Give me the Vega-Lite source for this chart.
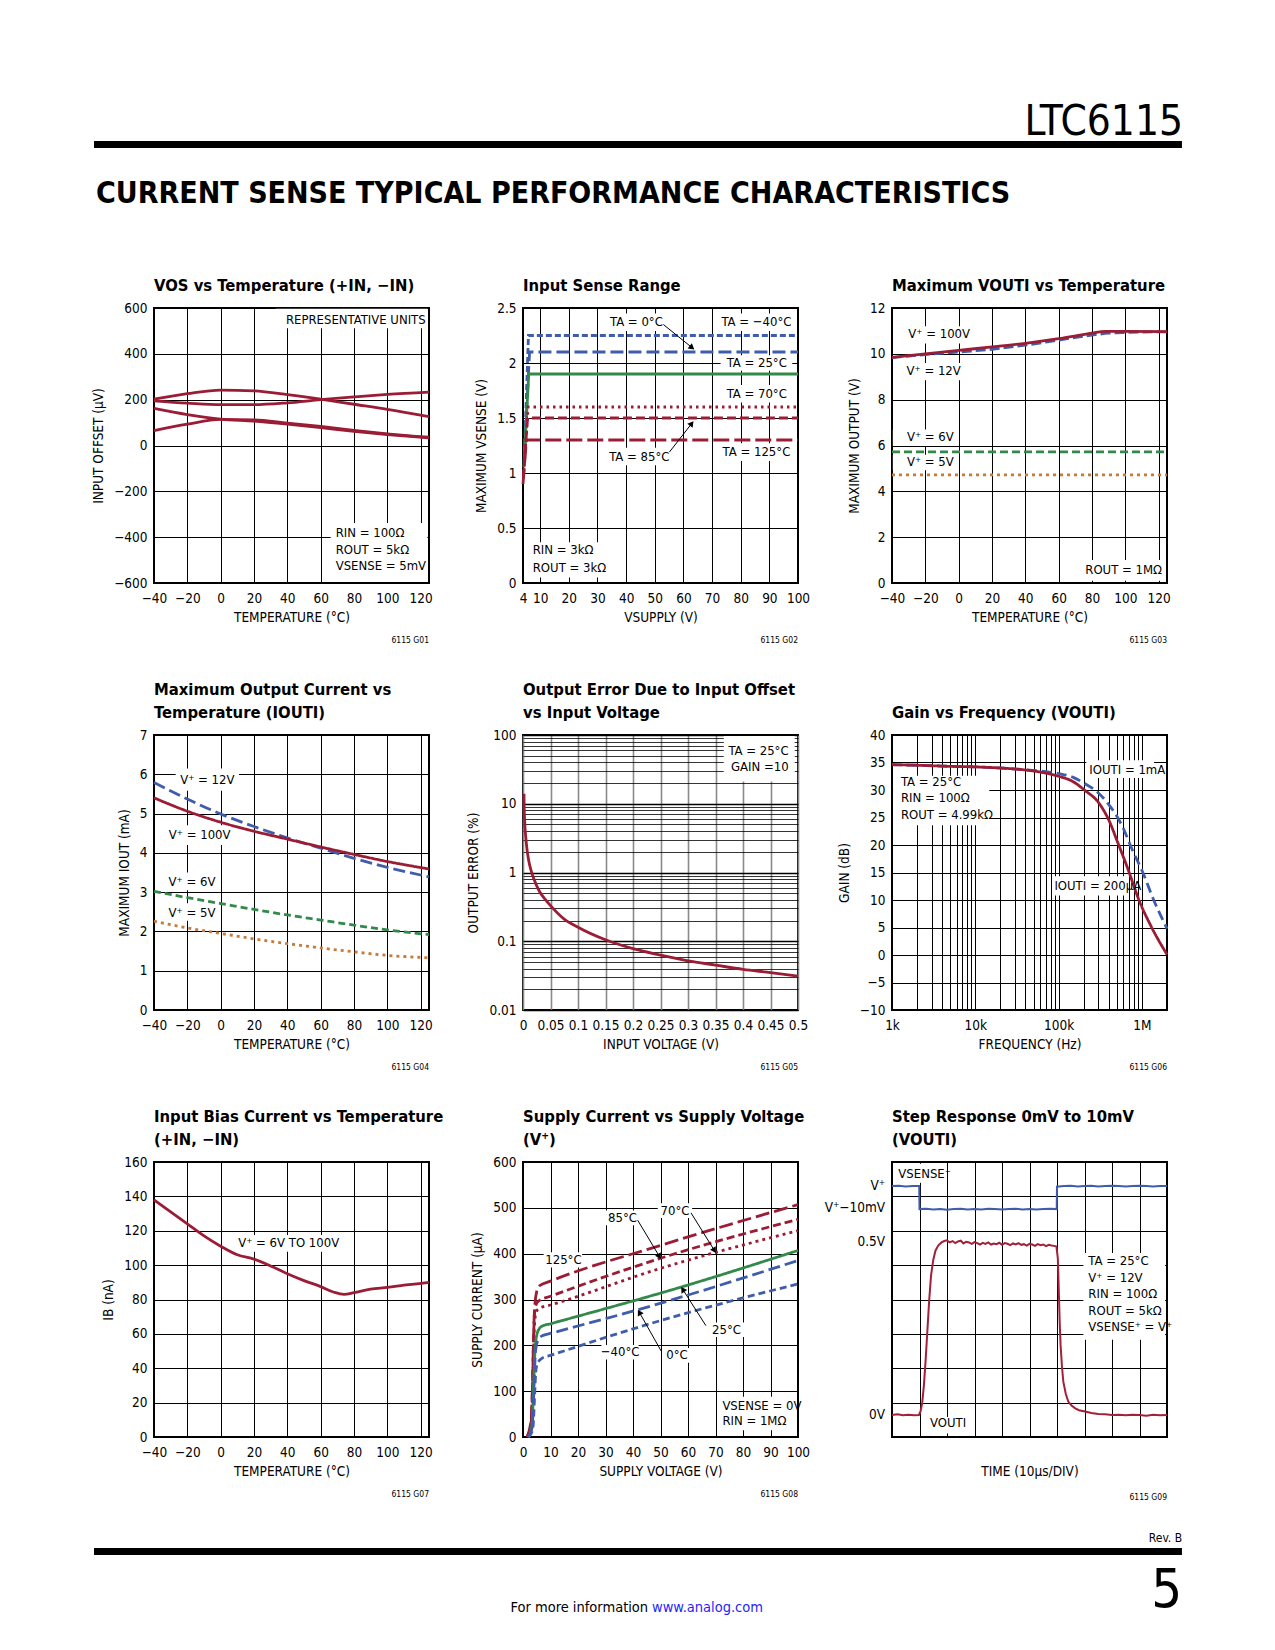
{
"$schema": "https://vega.github.io/schema/vega-lite/v6.json",
"background": "white",
"padding": {"left": 90, "top": 96, "right": 5, "bottom": 5},
"columns": 3,
"bounds": "flush",
"align": "each",
"spacing": {"row": 152, "column": 94},
"resolve": {"scale": {"color": "independent", "strokeDash": "independent"}},
"config": {
  "font": "DejaVu Sans Condensed, Liberation Sans, sans-serif",
  "view": {"stroke": "black", "strokeWidth": 2},
  "axis": {"grid": true, "gridColor": "black", "gridWidth": 1, "gridOpacity": 1, "domain": false, "ticks": false, "tickSize": 0,
           "labelFontSize": 13.5, "labelColor": "black", "labelFlush": false, "labelOverlap": false, "labelBound": false,
           "titleFontSize": 13.5, "titleFontWeight": "normal", "titleColor": "black"},
  "axisX": {"labelPadding": 8, "titlePadding": 6},
  "axisY": {"labelPadding": 7, "titlePadding": 8},
  "title": {"anchor": "start", "frame": "group", "fontSize": 16.5, "fontWeight": "bold", "color": "black", "offset": 7, "lineHeight": 23},
  "text": {"fontSize": 13, "color": "black", "baseline": "middle", "lineBreak": "\n", "lineHeight": 16.5},
  "line": {"strokeWidth": 2.8},
  "point": {"filled": true}
},
"concat": [
{
  "width": 275, "height": 60, "view": {"stroke": null},
  "layer": [
    {"data": {"values": [{"element": "top rule"}]}, "mark": {"type": "rect", "color": "black"},
     "encoding": {"x": {"datum": -0.2182, "type": "quantitative", "scale": {"domain": [0, 1], "nice": false, "zero": false}, "axis": null},
                  "x2": {"datum": 3.738},
                  "y": {"datum": 0.25, "type": "quantitative", "scale": {"domain": [0, 1], "nice": false, "zero": false}, "axis": null},
                  "y2": {"datum": 0.1333}}},
    {"data": {"values": [{"label": "CURRENT SENSE TYPICAL PERFORMANCE CHARACTERISTICS"}]},
     "mark": {"type": "text", "align": "left", "baseline": "alphabetic", "fontSize": 30, "fontWeight": "bold"},
     "encoding": {"x": {"datum": -0.2109, "type": "quantitative", "scale": {"domain": [0, 1], "nice": false, "zero": false}, "axis": null},
                  "y": {"datum": -0.7833, "type": "quantitative", "scale": {"domain": [0, 1], "nice": false, "zero": false}, "axis": null},
                  "text": {"field": "label", "type": "nominal"}}}
  ]
},
{
  "width": 275, "height": 60, "view": {"stroke": null},
  "data": {"values": [{"element": "spacer"}]}, "mark": {"type": "point", "opacity": 0}
},
{
  "width": 275, "height": 60, "view": {"stroke": null},
  "data": {"values": [{"label": "LTC6115"}]},
  "mark": {"type": "text", "align": "right", "baseline": "alphabetic", "fontSize": 42},
  "encoding": {"x": {"datum": 1.058, "type": "quantitative", "scale": {"domain": [0, 1], "nice": false, "zero": false}, "axis": null},
               "y": {"datum": 0.358, "type": "quantitative", "scale": {"domain": [0, 1], "nice": false, "zero": false}, "axis": null},
               "text": {"field": "label", "type": "nominal"}}
},
{
  "width": 275, "height": 275,
  "title": {"text": "VOS vs Temperature (+IN, −IN)"},
  "encoding": {
    "x": {"field": "x", "type": "quantitative", "scale": {"domain": [-40, 125], "nice": false, "zero": false}, "axis": {"values": [-40,-20,0,20,40,60,80,100,120], "format": "d", "title": "TEMPERATURE (°C)"}},
    "y": {"field": "y", "type": "quantitative", "scale": {"domain": [-600, 600], "nice": false, "zero": false}, "axis": {"values": [-600,-400,-200,0,200,400,600], "format": "d", "title": "INPUT OFFSET (µV)"}}
  },
  "layer": [
    {"data": {"values": [{"x": 33, "x2": 124, "y": 597, "y2": 512}, {"x": 66, "x2": 124, "y": -338, "y2": -596}]},
     "mark": {"type": "rect", "fill": "white"}, "encoding": {"x2": {"field": "x2"}, "y2": {"field": "y2"}}},
    {"data": {"values": [
      {"s":"A","x":-40,"y":202},{"s":"A","x":-20,"y":226},{"s":"A","x":0,"y":242},{"s":"A","x":20,"y":238},{"s":"A","x":40,"y":222},{"s":"A","x":60,"y":202},{"s":"A","x":80,"y":180},{"s":"A","x":100,"y":158},{"s":"A","x":125,"y":126},
      {"s":"B","x":-40,"y":195},{"s":"B","x":-20,"y":185},{"s":"B","x":0,"y":178},{"s":"B","x":20,"y":178},{"s":"B","x":40,"y":186},{"s":"B","x":60,"y":200},{"s":"B","x":80,"y":212},{"s":"B","x":100,"y":223},{"s":"B","x":125,"y":233},
      {"s":"C","x":-40,"y":162},{"s":"C","x":-20,"y":135},{"s":"C","x":0,"y":115},{"s":"C","x":20,"y":106},{"s":"C","x":40,"y":93},{"s":"C","x":60,"y":78},{"s":"C","x":80,"y":62},{"s":"C","x":100,"y":48},{"s":"C","x":125,"y":33},
      {"s":"D","x":-40,"y":65},{"s":"D","x":-20,"y":93},{"s":"D","x":0,"y":114},{"s":"D","x":20,"y":112},{"s":"D","x":40,"y":98},{"s":"D","x":60,"y":83},{"s":"D","x":80,"y":66},{"s":"D","x":100,"y":51},{"s":"D","x":125,"y":36}
    ]}, "mark": {"type": "line", "color": "#9B1C35", "interpolate": "monotone"}, "encoding": {"detail": {"field": "s", "type": "nominal"}}},
    {"data": {"values": [{"x": 123, "y": 546, "label": "REPRESENTATIVE UNITS"}]}, "mark": {"type": "text", "align": "right"}, "encoding": {"text": {"field": "label", "type": "nominal"}}},
    {"data": {"values": [{"x": 69, "y": -382, "label": "RIN = 100Ω\nROUT = 5kΩ\nVSENSE = 5mV"}]}, "mark": {"type": "text", "align": "left"}, "encoding": {"text": {"field": "label", "type": "nominal"}}},
    {"data": {"values": [{"x": 125, "y": -600, "label": "6115 G01"}]}, "mark": {"type": "text", "align": "right", "dy": 57, "fontSize": 8.5}, "encoding": {"text": {"field": "label", "type": "nominal"}}}
  ]
},
{
  "width": 275, "height": 275,
  "title": {"text": "Input Sense Range"},
  "encoding": {
    "x": {"field": "x", "type": "quantitative", "scale": {"domain": [4, 100], "nice": false, "zero": false}, "axis": {"values": [4,10,20,30,40,50,60,70,80,90,100], "format": "d", "title": "VSUPPLY (V)"}},
    "y": {"field": "y", "type": "quantitative", "scale": {"domain": [0, 2.5], "nice": false, "zero": false}, "axis": {"values": [0,0.5,1,1.5,2,2.5], "format": "~g", "title": "MAXIMUM VSENSE (V)"}}
  },
  "layer": [
    {"data": {"values": [{"x":34,"x2":53,"y":2.45,"y2":2.29},{"x":73,"x2":98,"y":2.45,"y2":2.29},{"x":73,"x2":98,"y":2.07,"y2":1.93},{"x":73,"x2":98,"y":1.8,"y2":1.64},{"x":73,"x2":98,"y":1.27,"y2":1.11},{"x":33,"x2":55,"y":1.23,"y2":1.07},{"x":6,"x2":32,"y":0.37,"y2":0.05}]},
     "mark": {"type": "rect", "fill": "white"}, "encoding": {"x2": {"field": "x2"}, "y2": {"field": "y2"}}},
    {"data": {"values": [
      {"s":"−40","x":4.4,"y":1.1},{"s":"−40","x":5.9,"y":2.25},{"s":"−40","x":100,"y":2.25},
      {"s":"0","x":4.5,"y":1.2},{"s":"0","x":6.3,"y":2.1},{"s":"0","x":100,"y":2.1},
      {"s":"25","x":4.3,"y":1.05},{"s":"25","x":6,"y":1.9},{"s":"25","x":100,"y":1.9},
      {"s":"70","x":4.2,"y":1.0},{"s":"70","x":5.8,"y":1.6},{"s":"70","x":100,"y":1.6},
      {"s":"85","x":4.1,"y":0.95},{"s":"85","x":5.6,"y":1.5},{"s":"85","x":100,"y":1.5},
      {"s":"125","x":4,"y":0.9},{"s":"125","x":5.2,"y":1.3},{"s":"125","x":100,"y":1.3}
    ]}, "mark": {"type": "line"},
     "encoding": {"color": {"field": "s", "type": "nominal", "scale": {"domain": ["−40","0","25","70","85","125"], "range": ["#3F5DAB","#3F5DAB","#33894A","#9B1C35","#9B1C35","#9B1C35"]}, "legend": null},
                  "strokeDash": {"field": "s", "type": "nominal", "scale": {"domain": ["−40","0","25","70","85","125"], "range": [[6,3],[13,5],[1,0],[2.5,4],[9,4],[16,5]]}, "legend": null}}},
    {"data": {"values": [{"x":53,"y":2.35,"x2":63,"y2":2.14},{"x":55.1,"y":1.19,"x2":62.9,"y2":1.45}]}, "mark": {"type": "rule", "color": "black", "strokeWidth": 1}, "encoding": {"x2": {"field": "x2"}, "y2": {"field": "y2"}}},
    {"data": {"values": [{"x":63,"y":2.14}]}, "mark": {"type": "point", "shape": "triangle-right", "angle": 39, "size": 45, "color": "black", "opacity": 1}},
    {"data": {"values": [{"x":62.9,"y":1.45}]}, "mark": {"type": "point", "shape": "triangle-right", "angle": -52, "size": 45, "color": "black", "opacity": 1}},
    {"data": {"values": [{"x":43.6,"y":2.37,"label":"TA = 0°C"},{"x":85.5,"y":2.37,"label":"TA = −40°C"},{"x":85.6,"y":2.0,"label":"TA = 25°C"},{"x":85.6,"y":1.72,"label":"TA = 70°C"},{"x":85.5,"y":1.19,"label":"TA = 125°C"},{"x":44.6,"y":1.15,"label":"TA = 85°C"}]},
     "mark": {"type": "text", "align": "center"}, "encoding": {"text": {"field": "label", "type": "nominal"}}},
    {"data": {"values": [{"x": 7.4, "y": 0.30, "label": "RIN = 3kΩ\nROUT = 3kΩ"}]}, "mark": {"type": "text", "align": "left", "lineHeight": 17.5}, "encoding": {"text": {"field": "label", "type": "nominal"}}},
    {"data": {"values": [{"x": 100, "y": 0, "label": "6115 G02"}]}, "mark": {"type": "text", "align": "right", "dy": 57, "fontSize": 8.5}, "encoding": {"text": {"field": "label", "type": "nominal"}}}
  ]
},
{
  "width": 275, "height": 275,
  "title": {"text": "Maximum VOUTI vs Temperature"},
  "encoding": {
    "x": {"field": "x", "type": "quantitative", "scale": {"domain": [-40, 125], "nice": false, "zero": false}, "axis": {"values": [-40,-20,0,20,40,60,80,100,120], "format": "d", "title": "TEMPERATURE (°C)"}},
    "y": {"field": "y", "type": "quantitative", "scale": {"domain": [0, 12], "nice": false, "zero": false}, "axis": {"values": [0,2,4,6,8,10,12], "format": "d", "title": "MAXIMUM OUTPUT (V)"}}
  },
  "layer": [
    {"data": {"values": [{"x":-30,"x2":6,"y":11.2,"y2":10.45},{"x":-31,"x2":1,"y":9.6,"y2":8.85},{"x":-39.5,"x2":-3,"y":6.7,"y2":5.98},{"x":-39.5,"x2":-3,"y":5.6,"y2":4.92},{"x":76,"x2":124,"y":1.0,"y2":0.1}]},
     "mark": {"type": "rect", "fill": "white"}, "encoding": {"x2": {"field": "x2"}, "y2": {"field": "y2"}}},
    {"data": {"values": [
      {"s":"12","x":-40,"y":9.83},{"s":"12","x":-20,"y":9.97},{"s":"12","x":0,"y":10.08},{"s":"12","x":20,"y":10.2},{"s":"12","x":40,"y":10.38},{"s":"12","x":60,"y":10.6},{"s":"12","x":80,"y":10.82},{"s":"12","x":90,"y":10.9},{"s":"12","x":100,"y":10.93},{"s":"12","x":125,"y":10.96},
      {"s":"6","x":-40,"y":5.72},{"s":"6","x":125,"y":5.72},
      {"s":"5","x":-40,"y":4.72},{"s":"5","x":125,"y":4.72}
    ]}, "mark": {"type": "line", "interpolate": "monotone"},
     "encoding": {"color": {"field": "s", "type": "nominal", "scale": {"domain": ["12","6","5"], "range": ["#3F5DAB","#33894A","#C77B3B"]}, "legend": null},
                  "strokeDash": {"field": "s", "type": "nominal", "scale": {"domain": ["12","6","5"], "range": [[10,4],[8,4],[3,4]]}, "legend": null}}},
    {"data": {"values": [
      {"s":"100","x":-40,"y":9.85},{"s":"100","x":-20,"y":10.0},{"s":"100","x":0,"y":10.15},{"s":"100","x":20,"y":10.3},{"s":"100","x":40,"y":10.46},{"s":"100","x":60,"y":10.66},{"s":"100","x":80,"y":10.9},{"s":"100","x":88,"y":10.98},{"s":"100","x":100,"y":10.98},{"s":"100","x":125,"y":10.97}
    ]}, "mark": {"type": "line", "color": "#9B1C35", "interpolate": "monotone"}},
    {"data": {"values": [{"x":-11.7,"y":10.85,"label":"V⁺ = 100V"},{"x":-15,"y":9.23,"label":"V⁺ = 12V"},{"x":-17,"y":6.35,"label":"V⁺ = 6V"},{"x":-17,"y":5.26,"label":"V⁺ = 5V"}]},
     "mark": {"type": "text", "align": "center"}, "encoding": {"text": {"field": "label", "type": "nominal"}}},
    {"data": {"values": [{"x":122,"y":0.55,"label":"ROUT = 1MΩ"}]}, "mark": {"type": "text", "align": "right"}, "encoding": {"text": {"field": "label", "type": "nominal"}}},
    {"data": {"values": [{"x": 125, "y": 0, "label": "6115 G03"}]}, "mark": {"type": "text", "align": "right", "dy": 57, "fontSize": 8.5}, "encoding": {"text": {"field": "label", "type": "nominal"}}}
  ]
},
{
  "width": 275, "height": 275,
  "title": {"text": ["Maximum Output Current vs", "Temperature (IOUTI)"]},
  "encoding": {
    "x": {"field": "x", "type": "quantitative", "scale": {"domain": [-40, 125], "nice": false, "zero": false}, "axis": {"values": [-40,-20,0,20,40,60,80,100,120], "format": "d", "title": "TEMPERATURE (°C)"}},
    "y": {"field": "y", "type": "quantitative", "scale": {"domain": [0, 7], "nice": false, "zero": false}, "axis": {"values": [0,1,2,3,4,5,6,7], "format": "d", "title": "MAXIMUM IOUT (mA)"}}
  },
  "layer": [
    {"data": {"values": [{"x":-27,"x2":11,"y":6.15,"y2":5.58},{"x":-32,"x2":7,"y":4.7,"y2":4.2},{"x":-32,"x2":-2,"y":3.5,"y2":3.05},{"x":-32,"x2":-2,"y":2.72,"y2":2.27}]},
     "mark": {"type": "rect", "fill": "white"}, "encoding": {"x2": {"field": "x2"}, "y2": {"field": "y2"}}},
    {"data": {"values": [
      {"s":"12","x":-40,"y":5.79},{"s":"12","x":-20,"y":5.37},{"s":"12","x":0,"y":4.99},{"s":"12","x":20,"y":4.67},{"s":"12","x":40,"y":4.38},{"s":"12","x":60,"y":4.12},{"s":"12","x":80,"y":3.86},{"s":"12","x":100,"y":3.63},{"s":"12","x":125,"y":3.39},
      {"s":"100","x":-40,"y":5.4},{"s":"100","x":-20,"y":5.06},{"s":"100","x":0,"y":4.78},{"s":"100","x":20,"y":4.55},{"s":"100","x":40,"y":4.35},{"s":"100","x":60,"y":4.15},{"s":"100","x":80,"y":3.96},{"s":"100","x":100,"y":3.78},{"s":"100","x":125,"y":3.59},
      {"s":"6","x":-40,"y":3.02},{"s":"6","x":-20,"y":2.86},{"s":"6","x":0,"y":2.71},{"s":"6","x":20,"y":2.56},{"s":"6","x":40,"y":2.42},{"s":"6","x":60,"y":2.29},{"s":"6","x":80,"y":2.16},{"s":"6","x":100,"y":2.04},{"s":"6","x":125,"y":1.92},
      {"s":"5","x":-40,"y":2.26},{"s":"5","x":-20,"y":2.09},{"s":"5","x":0,"y":1.95},{"s":"5","x":20,"y":1.81},{"s":"5","x":40,"y":1.69},{"s":"5","x":60,"y":1.58},{"s":"5","x":80,"y":1.48},{"s":"5","x":100,"y":1.39},{"s":"5","x":125,"y":1.33}
    ]}, "mark": {"type": "line", "interpolate": "monotone"},
     "encoding": {"color": {"field": "s", "type": "nominal", "scale": {"domain": ["12","100","6","5"], "range": ["#3F5DAB","#9B1C35","#33894A","#C77B3B"]}, "legend": null},
                  "strokeDash": {"field": "s", "type": "nominal", "scale": {"domain": ["12","100","6","5"], "range": [[12,5],[1,0],[7,4],[3,4]]}, "legend": null}}},
    {"data": {"values": [{"x":-8,"y":5.86,"label":"V⁺ = 12V"},{"x":-12.6,"y":4.45,"label":"V⁺ = 100V"},{"x":-17.2,"y":3.26,"label":"V⁺ = 6V"},{"x":-17.2,"y":2.48,"label":"V⁺ = 5V"}]},
     "mark": {"type": "text", "align": "center"}, "encoding": {"text": {"field": "label", "type": "nominal"}}},
    {"data": {"values": [{"x": 125, "y": 0, "label": "6115 G04"}]}, "mark": {"type": "text", "align": "right", "dy": 57, "fontSize": 8.5}, "encoding": {"text": {"field": "label", "type": "nominal"}}}
  ]
},
{
  "width": 275, "height": 275,
  "title": {"text": ["Output Error Due to Input Offset", "vs Input Voltage"]},
  "encoding": {
    "x": {"field": "x", "type": "quantitative", "scale": {"domain": [0, 0.5], "nice": false, "zero": false},
          "axis": {"values": [0,0.05,0.1,0.15,0.2,0.25,0.3,0.35,0.4,0.45,0.5], "format": "~g", "title": "INPUT VOLTAGE (V)", "gridColor": "#8a8a8a", "gridWidth": 1.6}},
    "y": {"field": "y", "type": "quantitative", "scale": {"type": "log", "domain": [0.01, 100], "nice": false},
          "axis": {"values": [0.01,0.02,0.03,0.04,0.05,0.06,0.07,0.08,0.09,0.1,0.2,0.3,0.4,0.5,0.6,0.7,0.8,0.9,1,2,3,4,5,6,7,8,9,10,20,30,40,50,60,70,80,90,100],
                   "format": "~g", "labelExpr": "indexof([0.01, 0.1, 1, 10, 100], datum.value) >= 0 ? datum.label : ''",
                   "gridWidth": {"condition": {"test": "indexof([0.01, 0.1, 1, 10, 100], datum.value) >= 0", "value": 1.6}, "value": 0.8},
                   "title": "OUTPUT ERROR (%)"}}
  },
  "layer": [
    {"data": {"values": [{"x":0.365,"x2":0.494,"y":97,"y2":21}]}, "mark": {"type": "rect", "fill": "white"}, "encoding": {"x2": {"field": "x2"}, "y2": {"field": "y2"}}},
    {"data": {"values": [
      {"x":0.0018,"y":14},{"x":0.002,"y":10},{"x":0.003,"y":5.6},{"x":0.005,"y":3.3},{"x":0.0075,"y":2.1},{"x":0.01,"y":1.55},{"x":0.015,"y":1.05},{"x":0.02,"y":0.8},{"x":0.03,"y":0.53},{"x":0.04,"y":0.41},{"x":0.05,"y":0.33},{"x":0.075,"y":0.21},{"x":0.1,"y":0.16},{"x":0.15,"y":0.105},{"x":0.2,"y":0.078},{"x":0.25,"y":0.063},{"x":0.3,"y":0.052},{"x":0.35,"y":0.045},{"x":0.4,"y":0.039},{"x":0.45,"y":0.035},{"x":0.5,"y":0.031}
    ]}, "mark": {"type": "line", "color": "#9B1C35", "interpolate": "monotone"}},
    {"data": {"values": [{"x":0.483,"y":59,"label":"TA = 25°C\nGAIN =10"}]}, "mark": {"type": "text", "align": "right"}, "encoding": {"text": {"field": "label", "type": "nominal"}}},
    {"data": {"values": [{"x": 0.5, "y": 0.01, "label": "6115 G05"}]}, "mark": {"type": "text", "align": "right", "dy": 57, "fontSize": 8.5}, "encoding": {"text": {"field": "label", "type": "nominal"}}}
  ]
},
{
  "width": 275, "height": 275,
  "title": {"text": "Gain vs Frequency (VOUTI)"},
  "encoding": {
    "x": {"field": "x", "type": "quantitative", "scale": {"type": "log", "domain": [1000, 2000000], "nice": false},
          "axis": {"values": [1000,2000,3000,4000,5000,6000,7000,8000,9000,10000,20000,30000,40000,50000,60000,70000,80000,90000,100000,200000,300000,400000,500000,600000,700000,800000,900000,1000000,2000000],
                   "labelExpr": "datum.value == 1000 ? '1k' : datum.value == 10000 ? '10k' : datum.value == 100000 ? '100k' : datum.value == 1000000 ? '1M' : ''",
                   "title": "FREQUENCY (Hz)"}},
    "y": {"field": "y", "type": "quantitative", "scale": {"domain": [-10, 40], "nice": false, "zero": false}, "axis": {"values": [-10,-5,0,5,10,15,20,25,30,35,40], "format": "d", "title": "GAIN (dB)"}}
  },
  "layer": [
    {"data": {"values": [{"x":215000,"x2":1400000,"y":35.4,"y2":32.2},{"x":1030,"x2":14700,"y":32.6,"y2":23.6},{"x":85000,"x2":650000,"y":14.3,"y2":10.8}]},
     "mark": {"type": "rect", "fill": "white"}, "encoding": {"x2": {"field": "x2"}, "y2": {"field": "y2"}}},
    {"data": {"values": [
      {"s":"1m","x":1000,"y":34.6},{"s":"1m","x":2000,"y":34.5},{"s":"1m","x":5000,"y":34.3},{"s":"1m","x":10000,"y":34.2},{"s":"1m","x":20000,"y":34.0},{"s":"1m","x":31000,"y":33.8},{"s":"1m","x":58000,"y":33.5},{"s":"1m","x":100000,"y":33.0},{"s":"1m","x":150000,"y":32.3},{"s":"1m","x":204000,"y":31.2},{"s":"1m","x":277000,"y":29.9},{"s":"1m","x":370000,"y":28.0},{"s":"1m","x":586000,"y":23.3},{"s":"1m","x":773000,"y":19.0},{"s":"1m","x":1020000,"y":15.1},{"s":"1m","x":1340000,"y":10.5},{"s":"1m","x":2000000,"y":4.8},
      {"s":"200","x":1000,"y":34.6},{"s":"200","x":2000,"y":34.5},{"s":"200","x":5000,"y":34.3},{"s":"200","x":10000,"y":34.2},{"s":"200","x":20000,"y":34.0},{"s":"200","x":31000,"y":33.8},{"s":"200","x":58000,"y":33.3},{"s":"200","x":100000,"y":32.5},{"s":"200","x":150000,"y":31.5},{"s":"200","x":204000,"y":30.0},{"s":"200","x":309000,"y":27.5},{"s":"200","x":407000,"y":24.3},{"s":"200","x":511000,"y":20.5},{"s":"200","x":673000,"y":15.8},{"s":"200","x":927000,"y":9.9},{"s":"200","x":1290000,"y":5.2},{"s":"200","x":2000000,"y":0.1}
    ]}, "mark": {"type": "line", "interpolate": "monotone"},
     "encoding": {"color": {"field": "s", "type": "nominal", "scale": {"domain": ["1m","200"], "range": ["#3F5DAB","#9B1C35"]}, "legend": null},
                  "strokeDash": {"field": "s", "type": "nominal", "scale": {"domain": ["1m","200"], "range": [[10,5],[1,0]]}, "legend": null}}},
    {"data": {"values": [{"x":234000,"y":33.7,"label":"IOUTI = 1mA"},{"x":1280,"y":31.5,"label":"TA = 25°C\nRIN = 100Ω\nROUT = 4.99kΩ"},{"x":89000,"y":12.5,"label":"IOUTI = 200µA"}]},
     "mark": {"type": "text", "align": "left"}, "encoding": {"text": {"field": "label", "type": "nominal"}}},
    {"data": {"values": [{"x": 2000000, "y": -10, "label": "6115 G06"}]}, "mark": {"type": "text", "align": "right", "dy": 57, "fontSize": 8.5}, "encoding": {"text": {"field": "label", "type": "nominal"}}}
  ]
},
{
  "width": 275, "height": 275,
  "title": {"text": ["Input Bias Current vs Temperature", "(+IN, −IN)"]},
  "encoding": {
    "x": {"field": "x", "type": "quantitative", "scale": {"domain": [-40, 125], "nice": false, "zero": false}, "axis": {"values": [-40,-20,0,20,40,60,80,100,120], "format": "d", "title": "TEMPERATURE (°C)"}},
    "y": {"field": "y", "type": "quantitative", "scale": {"domain": [0, 160], "nice": false, "zero": false}, "axis": {"values": [0,20,40,60,80,100,120,140,160], "format": "d", "title": "IB (nA)"}}
  },
  "layer": [
    {"data": {"values": [{"x":11.5,"x2":70.5,"y":117.5,"y2":107.8}]}, "mark": {"type": "rect", "fill": "white"}, "encoding": {"x2": {"field": "x2"}, "y2": {"field": "y2"}}},
    {"data": {"values": [
      {"x":-40,"y":138},{"x":-30,"y":131},{"x":-20,"y":124},{"x":-10,"y":117},{"x":0,"y":111},{"x":10,"y":106},{"x":20,"y":103.5},{"x":30,"y":99.5},{"x":40,"y":95},{"x":50,"y":91},{"x":60,"y":87.5},{"x":68,"y":84.2},{"x":74,"y":83},{"x":80,"y":84},{"x":90,"y":86},{"x":100,"y":87},{"x":110,"y":88.3},{"x":125,"y":90}
    ]}, "mark": {"type": "line", "color": "#9B1C35", "interpolate": "monotone"}},
    {"data": {"values": [{"x":40.8,"y":112.6,"label":"V⁺ = 6V TO 100V"}]}, "mark": {"type": "text", "align": "center"}, "encoding": {"text": {"field": "label", "type": "nominal"}}},
    {"data": {"values": [{"x": 125, "y": 0, "label": "6115 G07"}]}, "mark": {"type": "text", "align": "right", "dy": 57, "fontSize": 8.5}, "encoding": {"text": {"field": "label", "type": "nominal"}}}
  ]
},
{
  "width": 275, "height": 275,
  "title": {"text": ["Supply Current vs Supply Voltage", "(V⁺)"]},
  "encoding": {
    "x": {"field": "x", "type": "quantitative", "scale": {"domain": [0, 100], "nice": false, "zero": false}, "axis": {"values": [0,10,20,30,40,50,60,70,80,90,100], "format": "d", "title": "SUPPLY VOLTAGE (V)"}},
    "y": {"field": "y", "type": "quantitative", "scale": {"domain": [0, 600], "nice": false, "zero": false}, "axis": {"values": [0,100,200,300,400,500,600], "format": "d", "title": "SUPPLY CURRENT (µA)"}}
  },
  "layer": [
    {"data": {"values": [{"x":7.5,"x2":21.5,"y":403,"y2":370},{"x":30,"x2":42,"y":494,"y2":462},{"x":49,"x2":61.5,"y":510,"y2":478},{"x":67.5,"x2":80.5,"y":250,"y2":218},{"x":28.5,"x2":42,"y":201,"y2":169},{"x":51,"x2":61,"y":194,"y2":162},{"x":71,"x2":98.5,"y":88,"y2":15}]},
     "mark": {"type": "rect", "fill": "white"}, "encoding": {"x2": {"field": "x2"}, "y2": {"field": "y2"}}},
    {"data": {"values": [
      {"s":"125","x":1.5,"y":0},{"s":"125","x":3,"y":40},{"s":"125","x":4.2,"y":280},{"s":"125","x":5,"y":318},{"s":"125","x":6,"y":330},{"s":"125","x":10,"y":340},{"s":"125","x":50,"y":418},{"s":"125","x":100,"y":507},
      {"s":"85","x":1.5,"y":0},{"s":"85","x":3,"y":35},{"s":"85","x":4.2,"y":270},{"s":"85","x":5,"y":292},{"s":"85","x":6,"y":298},{"s":"85","x":10,"y":307},{"s":"85","x":50,"y":390},{"s":"85","x":100,"y":475},
      {"s":"70","x":1.6,"y":0},{"s":"70","x":3,"y":30},{"s":"70","x":4.3,"y":255},{"s":"70","x":5,"y":275},{"s":"70","x":6,"y":281},{"s":"70","x":10,"y":288},{"s":"70","x":50,"y":368},{"s":"70","x":100,"y":450},
      {"s":"25","x":2,"y":0},{"s":"25","x":3.2,"y":25},{"s":"25","x":4.5,"y":200},{"s":"25","x":5.5,"y":232},{"s":"25","x":7,"y":242},{"s":"25","x":10,"y":247},{"s":"25","x":58,"y":328},{"s":"25","x":100,"y":407},
      {"s":"0","x":2,"y":0},{"s":"0","x":3.3,"y":20},{"s":"0","x":4.6,"y":190},{"s":"0","x":5.5,"y":212},{"s":"0","x":7,"y":221},{"s":"0","x":10,"y":226},{"s":"0","x":42,"y":278},{"s":"0","x":100,"y":385},
      {"s":"−40","x":2,"y":0},{"s":"−40","x":3.5,"y":15},{"s":"−40","x":4.8,"y":150},{"s":"−40","x":5.8,"y":166},{"s":"−40","x":7,"y":172},{"s":"−40","x":10,"y":178},{"s":"−40","x":50,"y":254},{"s":"−40","x":100,"y":334}
    ]}, "mark": {"type": "line", "interpolate": "monotone"},
     "encoding": {"color": {"field": "s", "type": "nominal", "scale": {"domain": ["125","85","70","25","0","−40"], "range": ["#9B1C35","#9B1C35","#9B1C35","#33894A","#3F5DAB","#3F5DAB"]}, "legend": null},
                  "strokeDash": {"field": "s", "type": "nominal", "scale": {"domain": ["125","85","70","25","0","−40"], "range": [[14,5],[8,4],[3,4],[1,0],[12,5],[7,4]]}, "legend": null}}},
    {"data": {"values": [{"x":41.7,"y":473,"x2":49.6,"y2":394},{"x":61.1,"y":489,"x2":69.6,"y2":407},{"x":66.5,"y":243,"x2":58.1,"y2":322},{"x":50.4,"y":186,"x2":42.3,"y2":272}]},
     "mark": {"type": "rule", "color": "black", "strokeWidth": 1}, "encoding": {"x2": {"field": "x2"}, "y2": {"field": "y2"}}},
    {"data": {"values": [{"x":49.6,"y":394}]}, "mark": {"type": "point", "shape": "triangle-right", "angle": 59, "size": 45, "color": "black", "opacity": 1}},
    {"data": {"values": [{"x":69.6,"y":407}]}, "mark": {"type": "point", "shape": "triangle-right", "angle": 58, "size": 45, "color": "black", "opacity": 1}},
    {"data": {"values": [{"x":58.1,"y":322}]}, "mark": {"type": "point", "shape": "triangle-right", "angle": -122.5, "size": 45, "color": "black", "opacity": 1}},
    {"data": {"values": [{"x":42.3,"y":272}]}, "mark": {"type": "point", "shape": "triangle-right", "angle": -119.5, "size": 45, "color": "black", "opacity": 1}},
    {"data": {"values": [{"x":14.7,"y":387,"label":"125°C"},{"x":36.2,"y":478,"label":"85°C"},{"x":55.3,"y":494,"label":"70°C"},{"x":74,"y":234,"label":"25°C"},{"x":35.3,"y":185,"label":"−40°C"},{"x":56,"y":178,"label":"0°C"}]},
     "mark": {"type": "text", "align": "center"}, "encoding": {"text": {"field": "label", "type": "nominal"}}},
    {"data": {"values": [{"x":72.5,"y":68,"label":"VSENSE = 0V\nRIN = 1MΩ"}]}, "mark": {"type": "text", "align": "left", "lineHeight": 15}, "encoding": {"text": {"field": "label", "type": "nominal"}}},
    {"data": {"values": [{"x": 100, "y": 0, "label": "6115 G08"}]}, "mark": {"type": "text", "align": "right", "dy": 57, "fontSize": 8.5}, "encoding": {"text": {"field": "label", "type": "nominal"}}}
  ]
},
{
  "width": 275, "height": 275,
  "title": {"text": ["Step Response 0mV to 10mV", "(VOUTI)"], "offset": 14},
  "encoding": {
    "x": {"field": "x", "type": "quantitative", "scale": {"domain": [0, 10], "nice": false, "zero": false}, "axis": {"values": [0,1,2,3,4,5,6,7,8,9,10], "labels": false, "title": "TIME (10µs/DIV)", "titlePadding": 27}},
    "y": {"field": "y", "type": "quantitative", "scale": {"domain": [0, 8], "nice": false, "zero": false}, "axis": {"values": [0,1,2,3,4,5,6,7,8], "labels": false, "title": null}}
  },
  "layer": [
    {"data": {"values": [{"x":0.05,"x2":2.0,"y":7.95,"y2":7.4},{"x":1.3,"x2":2.6,"y":0.58,"y2":0.1},{"x":6.96,"x2":9.93,"y":5.35,"y2":2.83}]},
     "mark": {"type": "rect", "fill": "white"}, "encoding": {"x2": {"field": "x2"}, "y2": {"field": "y2"}}},
    {"data": {"values": [
      {"s":"vs","x":0,"y":7.30},{"s":"vs","x":0.25,"y":7.31},{"s":"vs","x":0.5,"y":7.29},{"s":"vs","x":0.75,"y":7.30},{"s":"vs","x":0.99,"y":7.30},{"s":"vs","x":1.0,"y":6.63},{"s":"vs","x":1.25,"y":6.64},{"s":"vs","x":1.5,"y":6.62},{"s":"vs","x":1.75,"y":6.63},{"s":"vs","x":2.0,"y":6.61},{"s":"vs","x":2.25,"y":6.63},{"s":"vs","x":2.5,"y":6.64},{"s":"vs","x":2.75,"y":6.62},{"s":"vs","x":3.0,"y":6.63},{"s":"vs","x":3.25,"y":6.62},{"s":"vs","x":3.5,"y":6.64},{"s":"vs","x":3.75,"y":6.63},{"s":"vs","x":4.0,"y":6.62},{"s":"vs","x":4.25,"y":6.63},{"s":"vs","x":4.5,"y":6.64},{"s":"vs","x":4.75,"y":6.62},{"s":"vs","x":5.0,"y":6.63},{"s":"vs","x":5.25,"y":6.62},{"s":"vs","x":5.5,"y":6.63},{"s":"vs","x":5.75,"y":6.64},{"s":"vs","x":5.99,"y":6.63},{"s":"vs","x":6.0,"y":7.28},{"s":"vs","x":6.25,"y":7.30},{"s":"vs","x":6.5,"y":7.31},{"s":"vs","x":6.75,"y":7.29},{"s":"vs","x":7.0,"y":7.30},{"s":"vs","x":7.25,"y":7.31},{"s":"vs","x":7.5,"y":7.29},{"s":"vs","x":7.75,"y":7.30},{"s":"vs","x":8.0,"y":7.31},{"s":"vs","x":8.25,"y":7.30},{"s":"vs","x":8.5,"y":7.29},{"s":"vs","x":8.75,"y":7.30},{"s":"vs","x":9.0,"y":7.31},{"s":"vs","x":9.25,"y":7.30},{"s":"vs","x":9.5,"y":7.29},{"s":"vs","x":9.75,"y":7.30},{"s":"vs","x":10,"y":7.30},
      {"s":"vo","x":0,"y":0.64},{"s":"vo","x":0.2,"y":0.66},{"s":"vo","x":0.4,"y":0.63},{"s":"vo","x":0.6,"y":0.65},{"s":"vo","x":0.8,"y":0.63},{"s":"vo","x":0.98,"y":0.64},{"s":"vo","x":1.04,"y":0.75},{"s":"vo","x":1.1,"y":1.0},{"s":"vo","x":1.16,"y":1.5},{"s":"vo","x":1.22,"y":2.2},{"s":"vo","x":1.28,"y":3.0},{"s":"vo","x":1.35,"y":3.95},{"s":"vo","x":1.42,"y":4.7},{"s":"vo","x":1.5,"y":5.15},{"s":"vo","x":1.58,"y":5.42},{"s":"vo","x":1.68,"y":5.57},{"s":"vo","x":1.8,"y":5.66},{"s":"vo","x":1.9,"y":5.7},
      {"s":"vo","x":2.0,"y":5.72},{"s":"vo","x":2.1,"y":5.66},{"s":"vo","x":2.2,"y":5.7},{"s":"vo","x":2.3,"y":5.64},{"s":"vo","x":2.4,"y":5.69},{"s":"vo","x":2.5,"y":5.71},{"s":"vo","x":2.6,"y":5.63},{"s":"vo","x":2.7,"y":5.68},{"s":"vo","x":2.8,"y":5.66},{"s":"vo","x":2.9,"y":5.62},
      {"s":"vo","x":3.0,"y":5.67},{"s":"vo","x":3.1,"y":5.64},{"s":"vo","x":3.2,"y":5.6},{"s":"vo","x":3.3,"y":5.65},{"s":"vo","x":3.4,"y":5.62},{"s":"vo","x":3.5,"y":5.66},{"s":"vo","x":3.6,"y":5.6},{"s":"vo","x":3.7,"y":5.63},{"s":"vo","x":3.8,"y":5.61},{"s":"vo","x":3.9,"y":5.65},
      {"s":"vo","x":4.0,"y":5.59},{"s":"vo","x":4.1,"y":5.64},{"s":"vo","x":4.2,"y":5.62},{"s":"vo","x":4.3,"y":5.58},{"s":"vo","x":4.4,"y":5.63},{"s":"vo","x":4.5,"y":5.6},{"s":"vo","x":4.6,"y":5.64},{"s":"vo","x":4.7,"y":5.59},{"s":"vo","x":4.8,"y":5.61},{"s":"vo","x":4.9,"y":5.57},
      {"s":"vo","x":5.0,"y":5.62},{"s":"vo","x":5.1,"y":5.6},{"s":"vo","x":5.2,"y":5.56},{"s":"vo","x":5.3,"y":5.61},{"s":"vo","x":5.4,"y":5.58},{"s":"vo","x":5.5,"y":5.6},{"s":"vo","x":5.6,"y":5.55},{"s":"vo","x":5.7,"y":5.59},{"s":"vo","x":5.8,"y":5.57},{"s":"vo","x":5.9,"y":5.56},
      {"s":"vo","x":5.98,"y":5.54},{"s":"vo","x":6.03,"y":5.2},{"s":"vo","x":6.07,"y":4.14},{"s":"vo","x":6.1,"y":3.3},{"s":"vo","x":6.13,"y":2.68},{"s":"vo","x":6.18,"y":2.05},{"s":"vo","x":6.23,"y":1.61},{"s":"vo","x":6.32,"y":1.25},{"s":"vo","x":6.41,"y":1.03},{"s":"vo","x":6.52,"y":0.92},{"s":"vo","x":6.65,"y":0.84},{"s":"vo","x":6.8,"y":0.78},{"s":"vo","x":7.02,"y":0.74},{"s":"vo","x":7.25,"y":0.7},{"s":"vo","x":7.5,"y":0.67},{"s":"vo","x":7.75,"y":0.66},{"s":"vo","x":8.0,"y":0.64},{"s":"vo","x":8.25,"y":0.65},{"s":"vo","x":8.5,"y":0.63},{"s":"vo","x":8.75,"y":0.65},{"s":"vo","x":9.0,"y":0.64},{"s":"vo","x":9.25,"y":0.62},{"s":"vo","x":9.5,"y":0.65},{"s":"vo","x":9.75,"y":0.63},{"s":"vo","x":10,"y":0.64}
    ]}, "mark": {"type": "line", "strokeWidth": 2},
     "encoding": {"color": {"field": "s", "type": "nominal", "scale": {"domain": ["vs","vo"], "range": ["#3F5DAB","#A3203A"]}, "legend": null}}},
    {"data": {"values": [{"x":0.23,"y":7.64,"label":"VSENSE⁻"},{"x":1.38,"y":0.4,"label":"VOUTI"},{"x":7.14,"y":5.11,"label":"TA = 25°C\nV⁺ = 12V\nRIN = 100Ω\nROUT = 5kΩ\nVSENSE⁺ = V⁺"}]},
     "mark": {"type": "text", "align": "left"}, "encoding": {"text": {"field": "label", "type": "nominal"}}},
    {"data": {"values": [{"x":-0.25,"y":7.3,"label":"V⁺"},{"x":-0.25,"y":6.65,"label":"V⁺−10mV"},{"x":-0.25,"y":5.68,"label":"0.5V"},{"x":-0.25,"y":0.64,"label":"0V"}]},
     "mark": {"type": "text", "align": "right", "fontSize": 13.5}, "encoding": {"text": {"field": "label", "type": "nominal"}}},
    {"data": {"values": [{"x": 10, "y": 0, "label": "6115 G09"}]}, "mark": {"type": "text", "align": "right", "dy": 60, "fontSize": 8.5}, "encoding": {"text": {"field": "label", "type": "nominal"}}}
  ]
},
{
  "width": 275, "height": 20, "view": {"stroke": null},
  "data": {"values": [{"element": "bottom rule"}]}, "mark": {"type": "rect", "color": "black"},
  "encoding": {"x": {"datum": -0.2182, "type": "quantitative", "scale": {"domain": [0, 1], "nice": false, "zero": false}, "axis": null},
               "x2": {"datum": 3.738},
               "y": {"datum": 3.05, "type": "quantitative", "scale": {"domain": [0, 1], "nice": false, "zero": false}, "axis": null},
               "y2": {"datum": 2.7}}
},
{
  "width": 275, "height": 20, "view": {"stroke": null},
  "layer": [
    {"data": {"values": [{"label": "For more information"}]}, "mark": {"type": "text", "align": "right", "baseline": "alphabetic", "fontSize": 14.5},
     "encoding": {"x": {"datum": 0.455, "type": "quantitative", "scale": {"domain": [0, 1], "nice": false, "zero": false}, "axis": null},
                  "y": {"datum": -0.125, "type": "quantitative", "scale": {"domain": [0, 1], "nice": false, "zero": false}, "axis": null},
                  "text": {"field": "label", "type": "nominal"}}},
    {"data": {"values": [{"label": "www.analog.com"}]}, "mark": {"type": "text", "align": "left", "baseline": "alphabetic", "fontSize": 14.5, "color": "#1F1FFF"},
     "encoding": {"x": {"datum": 0.469, "type": "quantitative", "scale": {"domain": [0, 1], "nice": false, "zero": false}, "axis": null},
                  "y": {"datum": -0.125, "type": "quantitative", "scale": {"domain": [0, 1], "nice": false, "zero": false}, "axis": null},
                  "text": {"field": "label", "type": "nominal"}}}
  ]
},
{
  "width": 275, "height": 20, "view": {"stroke": null},
  "layer": [
    {"data": {"values": [{"label": "Rev. B"}]}, "mark": {"type": "text", "align": "right", "baseline": "alphabetic", "fontSize": 12},
     "encoding": {"x": {"datum": 1.055, "type": "quantitative", "scale": {"domain": [0, 1], "nice": false, "zero": false}, "axis": null},
                  "y": {"datum": 3.35, "type": "quantitative", "scale": {"domain": [0, 1], "nice": false, "zero": false}, "axis": null},
                  "text": {"field": "label", "type": "nominal"}}},
    {"data": {"values": [{"label": "5"}]}, "mark": {"type": "text", "align": "right", "baseline": "alphabetic", "fontSize": 54},
     "encoding": {"x": {"datum": 1.055, "type": "quantitative", "scale": {"domain": [0, 1], "nice": false, "zero": false}, "axis": null},
                  "y": {"datum": 0.1, "type": "quantitative", "scale": {"domain": [0, 1], "nice": false, "zero": false}, "axis": null},
                  "text": {"field": "label", "type": "nominal"}}}
  ]
}
]
}
